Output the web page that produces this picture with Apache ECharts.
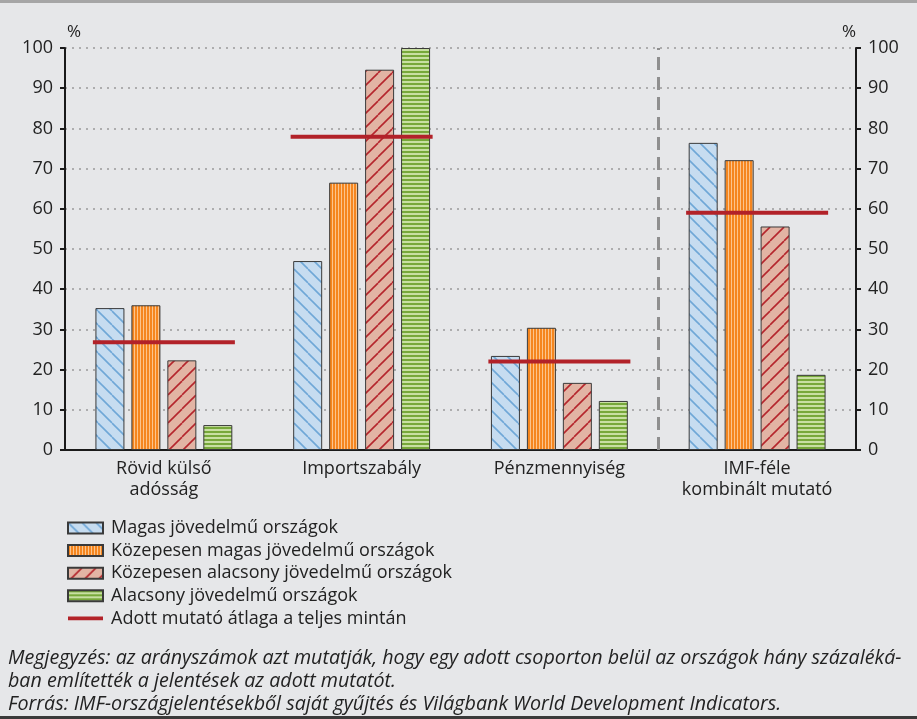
<!DOCTYPE html>
<html>
<head>
<meta charset="utf-8">
<script src="https://cdn.jsdelivr.net/npm/echarts@6/dist/echarts.min.js"></script>
<style>
  html, body { margin: 0; padding: 0; background: #e6e7e9; }
  #wrap { width: 917px; height: 719px; box-sizing: border-box; border-top: 3px solid #a6a6a6; border-bottom: 3px solid #3a3a3a; }
  #chart { width: 917px; height: 713px; }
</style>
</head>
<body>
<div id="wrap"><div id="chart"></div></div>
<script>
// kategóriák és értékek (%)
const categories = ['Rövid külső\nadósság', 'Importszabály', 'Pénzmennyiség', 'IMF-féle\nkombinált mutató'];
const magas = [35.3, 47.0, 23.4, 76.4];
const kozepMagas = [36.0, 66.5, 30.4, 72.1];
const kozepAlacsony = [22.3, 94.6, 16.7, 55.6];
const alacsony = [6.2, 100, 12.2, 18.7];
const atlag = [26.8, 77.9, 22.0, 59.0];
const separatorAt = [3]; // a szaggatott elválasztó a 3. és 4. csoport között
const seriesNames = ['Magas jövedelmű országok', 'Közepesen magas jövedelmű országok',
  'Közepesen alacsony jövedelmű országok', 'Alacsony jövedelmű országok', 'Adott mutató átlaga a teljes mintán'];
const notes = [
  'Megjegyzés: az arányszámok azt mutatják, hogy egy adott csoporton belül az országok hány százaléká-',
  'ban említették a jelentések az adott mutatót.',
  'Forrás: IMF-országjelentésekből saját gyűjtés és Világbank World Development Indicators.'
];

function pattern(w, h, bg, draw) {
  const c = document.createElement('canvas');
  c.width = w; c.height = h;
  const ctx = c.getContext('2d');
  ctx.fillStyle = bg;
  ctx.fillRect(0, 0, w, h);
  draw(ctx);
  return { image: c, repeat: 'repeat' };
}
const bluePat = pattern(14, 14, '#c6dcf0', ctx => {
  ctx.strokeStyle = '#6fa7d7'; ctx.lineWidth = 1.6;
  [-14, 0, 14].forEach(o => { ctx.beginPath(); ctx.moveTo(o, 0); ctx.lineTo(o + 14, 14); ctx.stroke(); });
});
const orangePat = pattern(3, 4, '#fcc48c', ctx => {
  ctx.fillStyle = '#f5861f'; ctx.fillRect(0, 0, 2, 4);
});
const redPat = pattern(14, 14, '#e2b4a4', ctx => {
  ctx.strokeStyle = '#b5262d'; ctx.lineWidth = 1.6;
  [-14, 0, 14].forEach(o => { ctx.beginPath(); ctx.moveTo(o, 14); ctx.lineTo(o + 14, 0); ctx.stroke(); });
});
const greenPat = pattern(4, 4, '#c8dfa2', ctx => {
  ctx.fillStyle = '#77a83a'; ctx.fillRect(0, 0, 4, 2);
});

const FONT = '"Open Sans", "Noto Sans", sans-serif';
const chart = echarts.init(document.getElementById('chart'));

function barSeries(name, data, fill) {
  return {
    name: name, type: 'bar', data: data,
    barWidth: 29, barGap: '24%',
    itemStyle: { color: fill, borderColor: '#3a3a3a', borderWidth: 1 }
  };
}

const yAxisBase = {
  type: 'value', min: 0, max: 100, interval: 10,
  name: '%', nameLocation: 'end', nameGap: 7,
  axisLine: { show: true, lineStyle: { color: '#1a1a1a', width: 2 } },
  axisTick: { show: true, length: 5, lineStyle: { color: '#1a1a1a', width: 2 } },
  axisLabel: { color: '#222', fontSize: 18, fontFamily: FONT, margin: 12 }
};

chart.setOption({
  backgroundColor: '#e6e7e9',
  animation: false,
  grid: { left: 65, right: 61, top: 45, bottom: 266 },
  legend: {
    orient: 'vertical', left: 62, top: 510,
    itemWidth: 35, itemHeight: 11, itemGap: 2.6,
    textStyle: { color: '#222', fontSize: 18, fontFamily: FONT, padding: [0, 0, 0, 3], lineHeight: 20 },
    data: seriesNames.slice(0, 4).map(n => ({ name: n, icon: 'rect' })).concat([
      { name: seriesNames[4], icon: 'path://M0,0 L36,0 L36,4 L0,4 Z' }
    ])
  },
  xAxis: [{
    type: 'category', data: categories,
    axisLine: { lineStyle: { color: '#1a1a1a', width: 2 } },
    axisTick: { show: false },
    axisLabel: { color: '#222', fontSize: 18, fontFamily: FONT, lineHeight: 21, margin: 8 }
  }, {
    // rejtett segédtengely a szaggatott elválasztóhoz
    type: 'value', min: 0, max: categories.length, show: false
  }],
  yAxis: [
    Object.assign({}, yAxisBase, {
      position: 'left',
      nameTextStyle: { color: '#222', fontSize: 17, fontFamily: FONT, align: 'left', padding: [0, 0, 0, 2] },
      splitLine: { show: true, lineStyle: { color: '#9a9a9a', width: 1.5, type: [2, 5] } }
    }),
    Object.assign({}, yAxisBase, {
      position: 'right',
      nameTextStyle: { color: '#222', fontSize: 17, fontFamily: FONT, align: 'right' },
      splitLine: { show: false }
    })
  ],
  graphic: notes.map((t, i) => ({
    type: 'text', left: 8, top: 645 + i * 23,
    style: { text: t, fill: '#222', font: 'italic 19.7px ' + FONT }
  })),
  series: [
    barSeries(seriesNames[0], magas, bluePat),
    barSeries(seriesNames[1], kozepMagas, orangePat),
    barSeries(seriesNames[2], kozepAlacsony, redPat),
    barSeries(seriesNames[3], alacsony, greenPat),
    {
      name: seriesNames[4], type: 'scatter', data: atlag, z: 5,
      symbol: 'rect', symbolSize: [142, 4],
      itemStyle: { color: '#b22229', opacity: 1 }
    },
    {
      type: 'scatter', xAxisIndex: 1, data: [], silent: true,
      markLine: {
        silent: true, symbol: 'none', label: { show: false },
        lineStyle: { color: '#8f8f8f', width: 3, type: [13, 7] },
        data: separatorAt.map(v => ({ xAxis: v }))
      }
    }
  ]
});
</script>
</body>
</html>
